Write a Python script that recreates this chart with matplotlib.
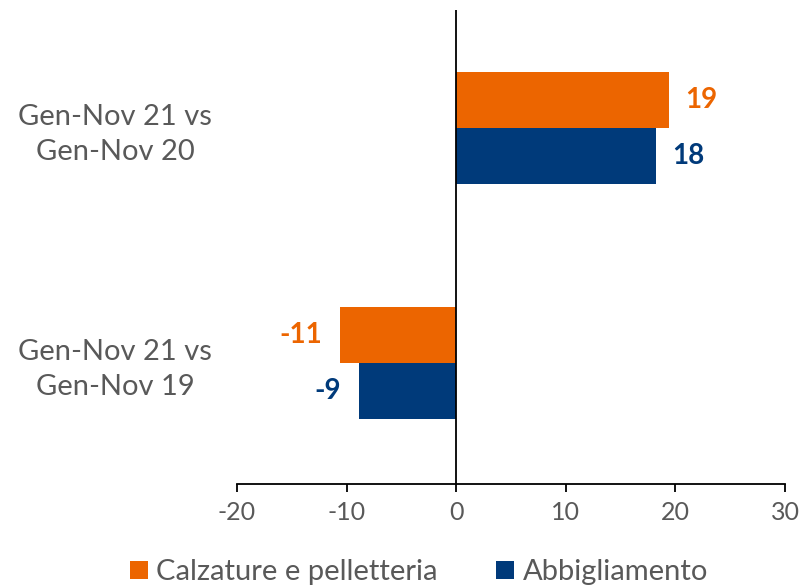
import numpy as np
import matplotlib.pyplot as plt

plt.rcParams['font.family'] = ['Lato', 'DejaVu Sans']

categorie = ['Gen-Nov 21 vs\nGen-Nov 20', 'Gen-Nov 21 vs\nGen-Nov 19']
calzature = [19.4, -10.6]
abbigliamento = [18.2, -8.9]
serie = ['Calzature e pelletteria', 'Abbigliamento']
colori = ['#EC6500', '#003A7A']
xticks = [-20, -10, 0, 10, 20, 30]

fig = plt.figure(figsize=(8.02, 5.88), dpi=100)
ax = fig.add_axes([0.2955, 0.177, 0.6833, 0.806])

y = np.arange(len(categorie))
h = 0.238
b1 = ax.barh(y - h/2, calzature, height=h, color=colori[0], label=serie[0])
b2 = ax.barh(y + h/2, abbigliamento, height=h, color=colori[1], label=serie[1])

for bars, vals, c in [(b1, calzature, colori[0]), (b2, abbigliamento, colori[1])]:
    for bar, v in zip(bars, vals):
        yc = bar.get_y() + bar.get_height()/2
        off = 12 if v > 0 else -13
        ax.annotate(f'{round(v):d}', (v, yc), xytext=(off, 0), textcoords='offset points',
                    ha='left' if v > 0 else 'right', va='center',
                    fontsize=20, fontweight='bold', color=c)

ax.axvline(0, color='black', lw=1.3)
ax.set_xlim(-20, 30)
ax.set_ylim(1.515, -0.502)
ax.set_xticks(xticks)
ax.set_xticklabels([str(t) for t in xticks])
ax.set_yticks(y)
ax.set_yticklabels(categorie, multialignment='center', linespacing=1.4)
ax.tick_params(axis='y', length=0, pad=18, labelsize=21, labelcolor='#595959')
ax.tick_params(axis='x', direction='out', length=6, width=1.3, pad=6,
               labelsize=18, labelcolor='#595959')
for s in ['left', 'right', 'top']:
    ax.spines[s].set_visible(False)
ax.spines['bottom'].set_linewidth(1.3)

fig.legend(handles=[b1, b2], labels=serie, loc='center', bbox_to_anchor=(0.5225, 0.027),
           ncol=2, frameon=False, fontsize=21, labelcolor='#595959',
           handlelength=0.6, handleheight=0.6, handletextpad=0.3, columnspacing=2.0)

fig.savefig('out.png', dpi=100)
